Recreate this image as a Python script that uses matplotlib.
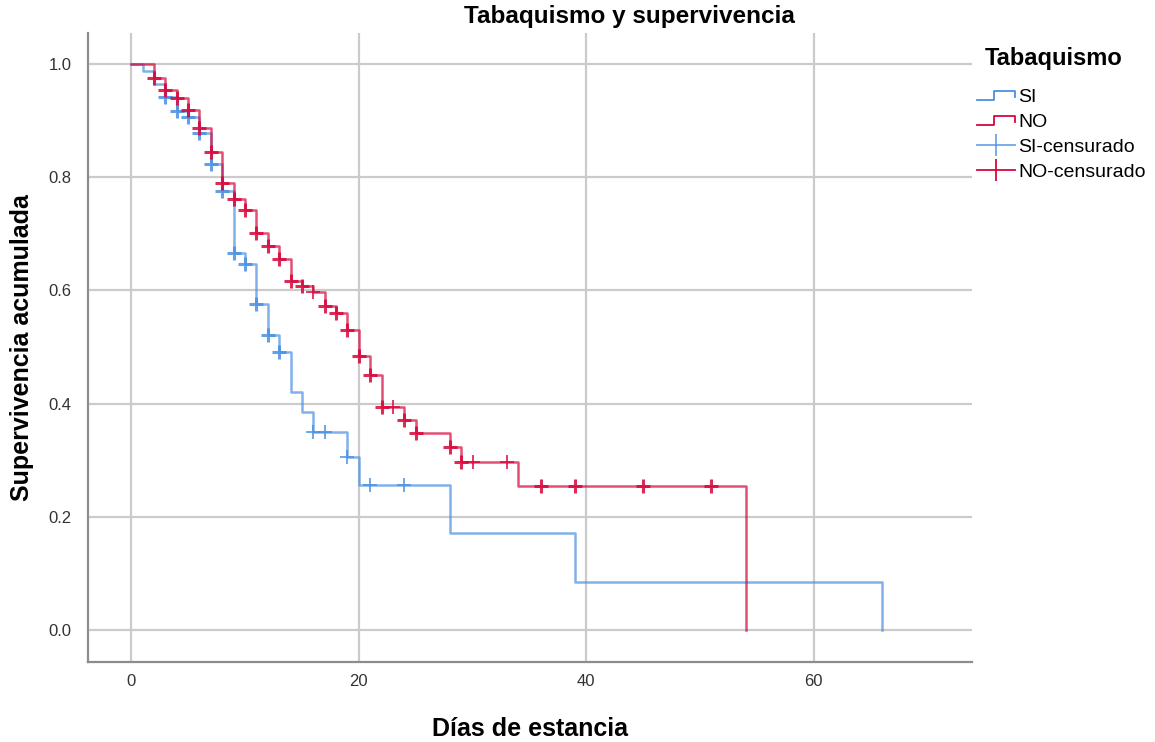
import numpy as np
import matplotlib
matplotlib.use("Agg")
import matplotlib.pyplot as plt
from matplotlib.lines import Line2D
from matplotlib.legend_handler import HandlerBase

plt.rcParams['font.family'] = ['Liberation Sans', 'DejaVu Sans']

# ---- data ----
si_times = [0, 1, 2, 3, 4, 5, 6, 7, 8, 9, 10, 11, 12, 13, 14, 15, 16, 19, 20, 28, 39, 66]
si_surv = [1.0, 0.988, 0.965, 0.942, 0.917, 0.907, 0.878, 0.824, 0.775, 0.666, 0.647,
           0.576, 0.522, 0.492, 0.421, 0.386, 0.350, 0.306, 0.256, 0.171, 0.085, 0.0]
si_cens = [3, 4, 5, 6, 7, 8, 9, 10, 11, 12, 13, 16, 17, 19, 21, 24]
si_cens_n = [2, 2, 2, 2, 2, 2, 2, 2, 2, 2, 2, 1, 1, 1, 1, 1]

no_times = [0, 2, 3, 4, 5, 6, 7, 8, 9, 10, 11, 12, 13, 14, 15, 16, 17, 18, 19, 20, 21,
            22, 24, 25, 28, 29, 34, 54]
no_surv = [1.0, 0.975, 0.954, 0.940, 0.919, 0.887, 0.845, 0.789, 0.761, 0.742, 0.701,
           0.678, 0.655, 0.617, 0.608, 0.598, 0.573, 0.560, 0.530, 0.485, 0.450,
           0.394, 0.371, 0.348, 0.324, 0.297, 0.254, 0.0]
no_cens = [2, 3, 4, 5, 6, 7, 8, 9, 10, 11, 12, 13, 14, 15, 16, 17, 18, 19, 20, 21, 22,
           23, 24, 25, 28, 29, 30, 33, 36, 39, 45, 51]
no_cens_n = [2, 2, 2, 2, 2, 2, 2, 2, 2, 2, 2, 2, 2, 2, 1, 2, 2, 2, 2, 2, 2,
             1, 2, 2, 2, 2, 1, 1, 2, 2, 2, 2]

group_labels = ["SI", "NO", "SI-censurado", "NO-censurado"]
x_ticks = [0, 20, 40, 60]
y_ticks = [0.0, 0.2, 0.4, 0.6, 0.8, 1.0]

BLUE = "#4A90E2"
RED = "#D7063B"

fig = plt.figure(figsize=(11.55, 7.42), dpi=100)
ax = fig.add_axes([88/1155, 1-662/742, (972-88)/1155, (662-33)/742])

for x in x_ticks:
    ax.axvline(x, color="#CBCBCB", lw=1.6, zorder=0)
for y in y_ticks:
    ax.axhline(y, color="#CBCBCB", lw=1.6, zorder=0)


def surv_at(times, surv, pts):
    idx = np.searchsorted(np.asarray(times), np.asarray(pts), side='right') - 1
    return np.asarray(surv)[idx]


for times, surv, cens, cn, col in [(si_times, si_surv, si_cens, si_cens_n, BLUE),
                                    (no_times, no_surv, no_cens, no_cens_n, RED)]:
    ax.step(times, surv, where='post', color=col, lw=1.8, alpha=0.7, zorder=3)
    cy = surv_at(times, surv, cens)
    cn = np.asarray(cn)
    cx = np.asarray(cens)
    for n, mew in [(1, 1.3), (2, 2.2)]:
        m = cn == n
        ax.plot(cx[m], cy[m], linestyle='none', marker='+', markersize=10,
                markeredgewidth=mew, color=col, alpha=0.85, zorder=4)

ax.set_xlim(-3.8, 73.9)
ax.set_ylim(-0.0565, 1.0548)
ax.set_xticks(x_ticks)
ax.set_yticks(y_ticks)
ax.set_yticklabels([f"{v:.1f}" for v in y_ticks])
ax.tick_params(length=0, labelsize=12, labelcolor="#333333")
ax.tick_params(axis='y', pad=12)
ax.tick_params(axis='x', pad=9)
for s in ['top', 'right']:
    ax.spines[s].set_visible(False)
for s in ['left', 'bottom']:
    ax.spines[s].set_color("#8C8C8C")
    ax.spines[s].set_linewidth(1.6)

fig.text(629/1155, 1-17/742, "Tabaquismo y supervivencia", fontsize=17.5,
         fontweight='bold', ha='center', va='center')
ax.set_xlabel("Días de estancia", fontsize=18, fontweight='bold', labelpad=20)
ax.set_ylabel("Supervivencia acumulada", fontsize=18, fontweight='bold', labelpad=10)


class StepHandler(HandlerBase):
    def create_artists(self, legend, orig_handle, xdescent, ydescent, width, height,
                       fontsize, trans):
        x0 = -xdescent
        y0 = -ydescent
        xs = [x0, x0 + width * 0.45, x0 + width * 0.45, x0 + width, x0 + width]
        ys = [y0 + height * 0.15, y0 + height * 0.15, y0 + height * 0.8, y0 + height * 0.8,
              y0 + height * 0.35]
        ln = Line2D(xs, ys, color=orig_handle.get_color(), lw=1.3, transform=trans)
        return [ln]


h_si = Line2D([], [], color=BLUE)
h_no = Line2D([], [], color=RED)
h_sic = Line2D([], [], color=BLUE, alpha=0.8, lw=1.3, marker='|', markersize=16, mew=1.3)
h_noc = Line2D([], [], color=RED, lw=1.3, marker='|', markersize=16, mew=1.3)
leg = fig.legend([h_si, h_no, h_sic, h_noc], group_labels,
                 handler_map={h_si: StepHandler(), h_no: StepHandler()},
                 loc='upper left', bbox_to_anchor=(959/1155, 1-30/742),
                 frameon=False, fontsize=14, title="Tabaquismo",
                 title_fontproperties={'weight': 'bold', 'size': 17},
                 handlelength=2.0, handletextpad=0.15, labelspacing=0.38,
                 alignment='left')
leg._legend_box.sep = 13
leg.get_title().set_position((8, 0))

fig.savefig("out.png", dpi=100)
